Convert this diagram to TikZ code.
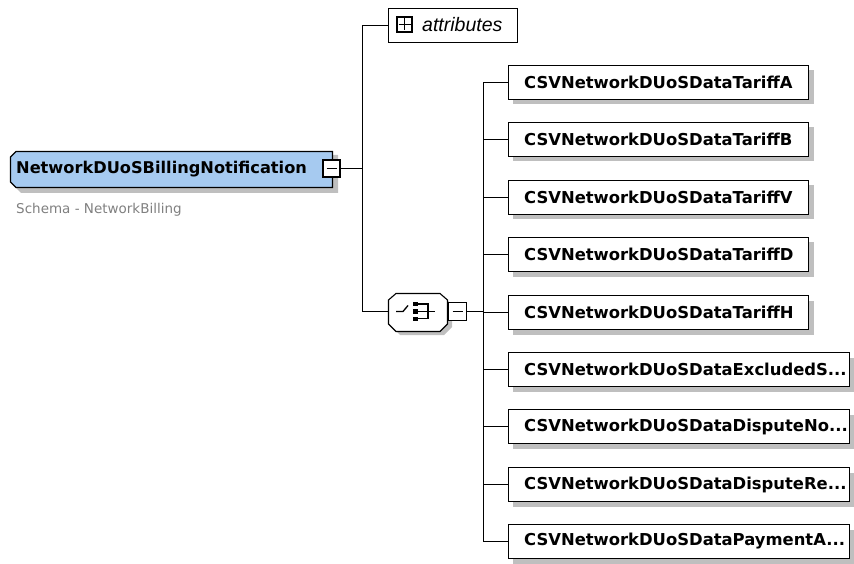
\documentclass[tikz,border=0pt]{standalone}
\usepackage{fontspec}
\setmainfont{DejaVu Sans}
\newfontfamily\tahoma{DejaVu Sans}
\newfontfamily\labfont{Liberation Sans}
\newcommand{\mydots}{...}
\begin{document}
\begin{tikzpicture}[x=1pt,y=-1pt,
  childbox/.style={draw=black,fill=white,line width=1.1pt},
  conn/.style={draw=black,line width=1.1pt},
  ctext/.style={font=\tahoma\bfseries\fontsize{16.4}{18}\selectfont,anchor=west,inner sep=0pt}]
\useasboundingbox (0,0) rectangle (854,564);
% ---------- main element ----------
\fill[black!25] (15,155) -- (338,155) -- (338,193) -- (21,193) -- (15,187) -- cycle;
\draw[fill={rgb,255:red,166;green,202;blue,240},line width=1.1pt]
  (16,151.5) -- (332.5,151.5) -- (332.5,187.5) -- (16,187.5) -- (10.5,182) -- (10.5,157) -- cycle;
\node[font=\tahoma\bfseries\fontsize{16.2}{18}\selectfont,anchor=west,inner sep=0pt] (main) at (16,169) {NetworkDUoSBillingNotification};
\node[draw,fill=white,minimum width=17,minimum height=17,inner sep=0pt,line width=1.1pt] (mminus) at (331.5,168.5) {};
\draw[line width=1.2pt] (326.5,168.5) -- (336.5,168.5);
\node[font=\tahoma\fontsize{13.5}{15}\selectfont,text=black!50,anchor=west,inner sep=0pt] (schema) at (16,210) {Schema - NetworkBilling};
% ---------- trunk 1 ----------
\coordinate (t1a) at (362.5,25.5);
\coordinate (t1m) at (362.5,168.5);
\coordinate (t1b) at (362.5,311.5);
\draw[conn] (mminus.east) -- (t1m);
\draw[conn] (t1a) -- (t1b);
% ---------- attributes ----------
\draw[conn] (388.5,8.5) rectangle (517.5,42.5);
\draw[conn] (t1a) -- (388.5,25.5);
\node[draw,minimum width=15,minimum height=15,inner sep=0pt,line width=1.1pt] (aplus) at (404.5,24.5) {};
\draw[line width=1.2pt] (398.5,24.5) -- (410.5,24.5) (404.5,18.5) -- (404.5,30.5);
\node[font=\labfont\itshape\fontsize{19.5}{22}\selectfont,anchor=base west,inner sep=0pt] (attrtext) at (422,31.5) {attributes};
% ---------- sequence compositor ----------
\fill[black!25] (400,297) -- (444,297) -- (452,305) -- (452,327) -- (444,335) -- (400,335) -- (392,327) -- (392,305) -- cycle;
\draw[conn,fill=white] (396,293.5) -- (440,293.5) -- (447.5,300) -- (447.5,324) -- (440,331.5) -- (396,331.5) -- (388.5,324) -- (388.5,300) -- cycle;
\coordinate (seqw) at (388.5,311.5);
\draw[conn] (t1b) -- (seqw);
% icon
\draw[line width=1.3pt] (396,311.5) -- (403,311.5) -- (408,305.5);
\fill (413,301.5) rectangle (418,306);
\fill (413,309) rectangle (418,313.5);
\fill (413,316.5) rectangle (418,321);
\draw[line width=1.1pt] (418,304) -- (428,304) -- (428,318.5) -- (418,318.5);
\draw[line width=1.1pt] (418,311.5) -- (435,311.5);
\node[draw,fill=white,minimum width=18,minimum height=18,inner sep=0pt,line width=1.1pt] (sminus) at (457.5,311.5) {};
\draw[line width=1.2pt] (452.5,311.5) -- (462.5,311.5);
% ---------- trunk 2 ----------
\coordinate (t2a) at (483.5,82.5);
\coordinate (t2m) at (483.5,311.5);
\coordinate (t2b) at (483.5,541.5);
\draw[conn] (sminus.east) -- (t2m);
\draw[conn] (t2a) -- (t2b);
% ---------- children ----------
\foreach \i/\t/\r in {0/CSVNetworkDUoSDataTariffA/808.5,
                      1/CSVNetworkDUoSDataTariffB/808.5,
                      2/CSVNetworkDUoSDataTariffV/808.5,
                      3/CSVNetworkDUoSDataTariffD/808.5,
                      4/CSVNetworkDUoSDataTariffH/808.5,
                      5/CSVNetworkDUoSDataExcludedS\mydots/849.5,
                      6/CSVNetworkDUoSDataDisputeNo\mydots/849.5,
                      7/CSVNetworkDUoSDataDisputeRe\mydots/849.5,
                      8/CSVNetworkDUoSDataPaymentA\mydots/849.5}{
  \pgfmathsetmacro{\cy}{round(82+57.4*\i)+0.5}
  \fill[black!25] (513,\cy-12) rectangle (\r+5,\cy+22);
  \draw[childbox] (508.5,\cy-17) rectangle (\r,\cy+17);
  \node[ctext] (c\i) at (524,\cy) {\t};
  \draw[conn] (483.5,\cy) -- (508.5,\cy);
}
\end{tikzpicture}
\end{document}
